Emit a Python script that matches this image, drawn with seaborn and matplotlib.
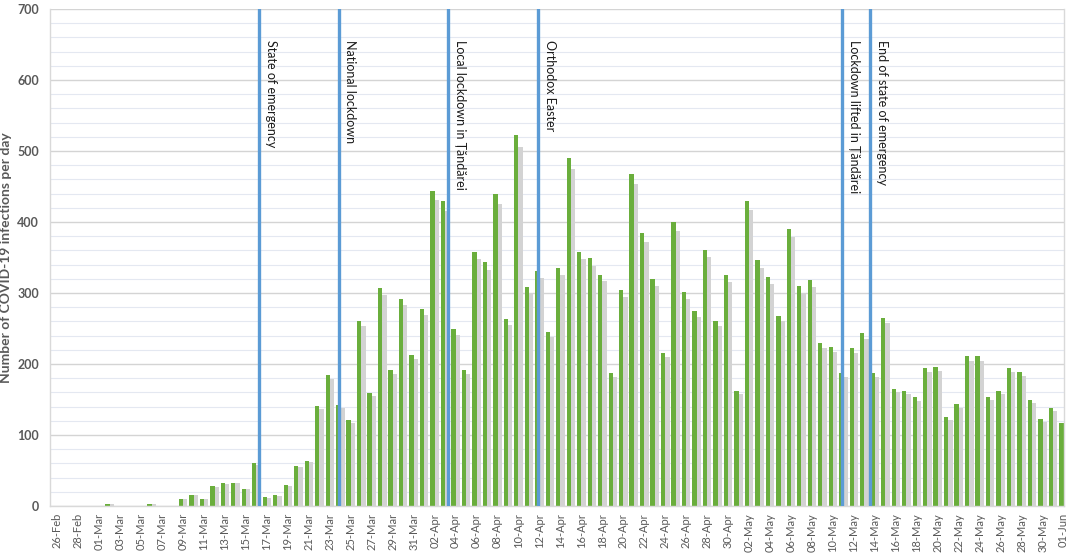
import numpy as np
import pandas as pd
import matplotlib
matplotlib.use("Agg")
import matplotlib.pyplot as plt
import seaborn as sns
from matplotlib.ticker import MultipleLocator

# ---- data ----
dates = [d.strftime("%d-%b") for d in pd.date_range("2020-02-26", "2020-06-01")]

cases_feb = [0, 0, 0, 0]
cases_mar = [0, 3, 0, 0, 0, 3, 0, 0, 10, 16, 10, 28, 32, 33, 24, 60, 12, 15, 29, 57,
             64, 141, 184, 142, 121, 261, 159, 307, 191, 292, 213]
cases_apr = [277, 444, 429, 249, 192, 358, 343, 439, 263, 522, 308, 331, 245, 335, 490,
             358, 349, 326, 188, 304, 467, 384, 320, 216, 400, 301, 275, 361, 261, 325]
cases_may = [162, 430, 346, 323, 268, 390, 310, 318, 229, 224, 188, 222, 243, 188, 265,
             165, 162, 153, 194, 196, 125, 143, 211, 211, 154, 162, 195, 189, 149, 122, 138]
cases_jun = [117]
cases = cases_feb + cases_mar + cases_apr + cases_may + cases_jun

event_labels = ["State of emergency", "National lockdown", "Local lockdown in Țăndărei",
                "Orthodox Easter", "Lockdown lifted in Țăndărei", "End of state of emergency"]
event_dates = ["16-Mar", "24-Mar", "03-Apr", "12-Apr", "11-May", "14-May"]
event_offsets = [0.24, -0.13, 0.3, -0.14, -0.13, -0.46]

y_ticks = [0, 100, 200, 300, 400, 500, 600, 700]

# ---- frame ----
shadow = [v * 0.97 for v in cases]
df = pd.DataFrame({
    "date": dates * 2,
    "value": cases + shadow,
    "series": ["cases"] * len(dates) + ["shadow"] * len(dates),
})

sns.set_style("white")
plt.rcParams["font.family"] = ["Lato", "DejaVu Sans"]

fig = plt.figure(figsize=(10.72, 5.53), dpi=100)
ax = fig.add_axes([0.0466, 0.085, 0.946, 0.8987])

sns.barplot(data=df, x="date", y="value", hue="series", order=dates,
            hue_order=["cases", "shadow"],
            palette={"cases": "#6AAE3C", "shadow": "#D3D3D3"},
            width=0.82, dodge=True, saturation=1, legend=False, ax=ax,
            linewidth=0, errorbar=None)

ax.set_ylim(0, 700)
ax.set_xlim(-0.70, 96.05)
ax.set_yticks(y_ticks)
ax.yaxis.set_minor_locator(MultipleLocator(20))
ax.grid(which="major", axis="y", color="#D4D4D4", lw=1.0)
ax.grid(which="minor", axis="y", color="#E4E8F1", lw=0.8)
ax.grid(which="major", axis="x", visible=False)
ax.set_axisbelow(True)

ax.set_xticks(range(0, len(dates), 2))
ax.set_xticklabels(dates[::2], rotation=90, fontsize=8, color="#595959")
ax.set_yticklabels([str(t) for t in y_ticks], fontsize=9, fontweight="bold", color="#595959")
ax.tick_params(which="both", length=0)
ax.tick_params(axis="x", pad=5)
ax.tick_params(axis="y", pad=8)

ax.set_xlabel("")
ax.set_ylabel("Number of COVID-19 infections per day", fontsize=10, fontweight="bold",
              color="#595959")
ax.yaxis.set_label_coords(-0.037, 0.5)

for s in ["left", "bottom", "right"]:
    ax.spines[s].set_color("#D9D9D9")
    ax.spines[s].set_linewidth(1)
ax.spines["top"].set_visible(False)

for lab, d, off in zip(event_labels, event_dates, event_offsets):
    xpos = dates.index(d) + off
    ax.axvline(xpos, color="#5B9BD5", lw=2.4, zorder=6)
    ax.annotate(lab, xy=(xpos, 656), xytext=(4, 0), textcoords="offset points",
                rotation=270, va="top", ha="left", fontsize=9, color="#1a1a1a",
                zorder=7)

fig.savefig("out.png", dpi=100)
